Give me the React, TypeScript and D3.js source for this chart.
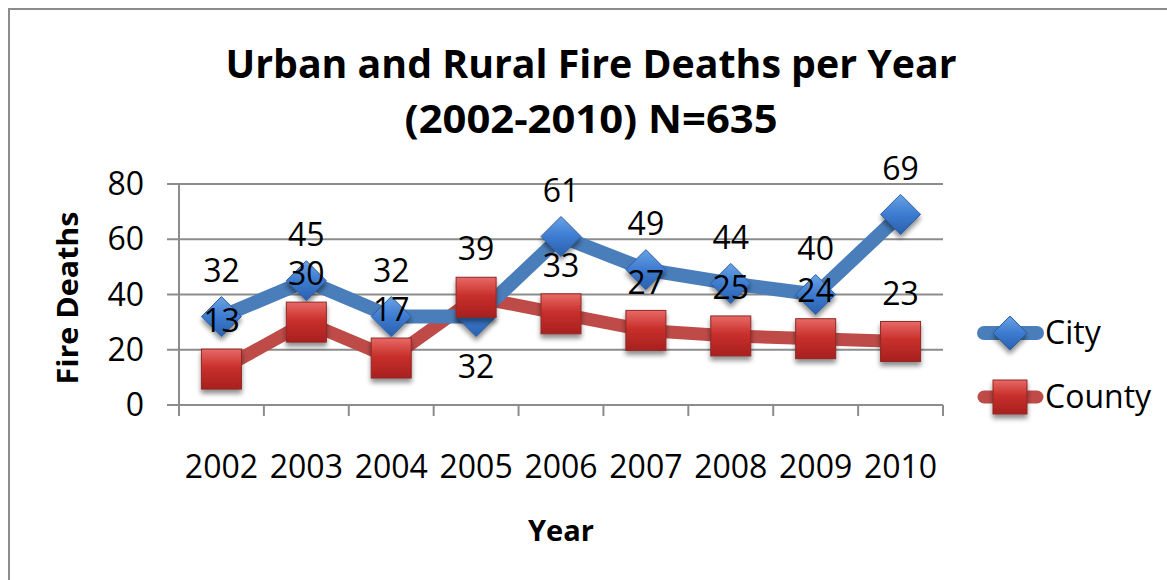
import React from "react";
import * as d3 from "d3";

const years = ["2002", "2003", "2004", "2005", "2006", "2007", "2008", "2009", "2010"];
const cityValues = [32, 45, 32, 32, 61, 49, 44, 40, 69];
const countyValues = [13, 30, 17, 39, 33, 27, 25, 24, 23];
const yTicks = [0, 20, 40, 60, 80];
const cityLabelPlacement = ["above", "above", "above", "below", "above", "above", "above", "above", "above"];
const countyLabelPlacement = ["above", "above", "above", "above", "above", "above", "above", "above", "above"];

const W = 1167;
const H = 580;
const FONT = "'Open Sans', Lato, sans-serif";
const BLUE = "#4a7ebb";
const RED = "#be4b48";

export default function App() {
  const plotLeft = 179;
  const plotRight = 943;
  const plotTop = 184;
  const plotBottom = 405;

  const x = d3.scaleBand<string>().domain(years).range([plotLeft, plotRight]).padding(0);
  const y = d3.scaleLinear().domain([0, 80]).range([plotBottom, plotTop]);
  const cx = (yr: string) => (x(yr) as number) + x.bandwidth() / 2;

  const line = d3
    .line<number>()
    .x((_, i) => cx(years[i]))
    .y((d) => y(d));

  const diamond = (px: number, py: number, r: number) =>
    `M${px},${py - r}L${px + r},${py}L${px},${py + r}L${px - r},${py}Z`;

  return (
    <svg
      width={W}
      height={H}
      style={{ position: "absolute", left: 0, top: 0, background: "#fff" }}
      fontFamily={FONT}
    >
      <defs>
        <linearGradient id="sqGrad" x1="0" y1="0" x2="0" y2="1">
          <stop offset="0" stopColor="#e86a66" />
          <stop offset="0.45" stopColor="#c8302c" />
          <stop offset="1" stopColor="#a8201e" />
        </linearGradient>
        <linearGradient id="dmGrad" x1="0" y1="0" x2="0" y2="1">
          <stop offset="0" stopColor="#6aa2e6" />
          <stop offset="0.5" stopColor="#3d7bd0" />
          <stop offset="1" stopColor="#2a60ad" />
        </linearGradient>
        <filter id="shadow" x="-50%" y="-50%" width="200%" height="200%">
          <feGaussianBlur in="SourceAlpha" stdDeviation="2.5" />
          <feOffset dx="0" dy="4" result="b" />
          <feComponentTransfer>
            <feFuncA type="linear" slope="0.45" />
          </feComponentTransfer>
          <feMerge>
            <feMergeNode />
            <feMergeNode in="SourceGraphic" />
          </feMerge>
        </filter>
      </defs>

      {/* outer border */}
      <rect x={9} y={9} width={W + 20} height={H + 20} fill="none" stroke="#8c8c8c" strokeWidth={2} />

      {/* title */}
      <text x={591} y={78} textAnchor="middle" fontSize={40} fontWeight="bold" fill="#000" textLength={731} lengthAdjust="spacingAndGlyphs">
        Urban and Rural Fire Deaths per Year
      </text>
      <text x={591} y={133} textAnchor="middle" fontSize={40} fontWeight="bold" fill="#000" textLength={373} lengthAdjust="spacingAndGlyphs">
        (2002-2010) N=635
      </text>

      {/* gridlines */}
      {yTicks.map((t) => (
        <line key={t} x1={plotLeft - 12} x2={plotRight} y1={y(t)} y2={y(t)} stroke="#8c8c8c" strokeWidth={2} />
      ))}
      {/* y axis line */}
      <line x1={plotLeft} x2={plotLeft} y1={plotTop} y2={plotBottom + 11} stroke="#8c8c8c" strokeWidth={2} />
      {/* x ticks */}
      {years.map((yr) => (
        <line key={yr} x1={x(yr) as number} x2={x(yr) as number} y1={plotBottom} y2={plotBottom + 11} stroke="#8c8c8c" strokeWidth={2} />
      ))}
      <line x1={plotRight} x2={plotRight} y1={plotBottom} y2={plotBottom + 11} stroke="#8c8c8c" strokeWidth={2} />

      {/* y tick labels */}
      {yTicks.map((t) => (
        <text key={t} x={144} y={y(t)} dy="0.35em" textAnchor="end" fontSize={32} fill="#000">
          {t}
        </text>
      ))}
      {/* x tick labels */}
      {years.map((yr) => (
        <text key={yr} x={cx(yr)} y={478} textAnchor="middle" fontSize={32} fill="#000">
          {yr}
        </text>
      ))}

      {/* axis titles */}
      <text transform="translate(78,298) rotate(-90)" textAnchor="middle" fontSize={29} fontWeight="bold" fill="#000" textLength={173} lengthAdjust="spacingAndGlyphs">
        Fire Deaths
      </text>
      <text x={561} y={541} textAnchor="middle" fontSize={29} fontWeight="bold" fill="#000" textLength={66} lengthAdjust="spacingAndGlyphs">
        Year
      </text>

      {/* lines */}
      <path d={line(countyValues) as string} fill="none" stroke={RED} strokeWidth={13} strokeLinejoin="round" />
      <path d={line(cityValues) as string} fill="none" stroke={BLUE} strokeWidth={14} strokeLinejoin="round" />

      {/* markers */}
      {cityValues.map((v, i) => (
        <path key={"c" + i} d={diamond(cx(years[i]), y(v), 20)} fill="url(#dmGrad)" stroke="#2f5f9e" strokeWidth={1} filter="url(#shadow)" />
      ))}
      {countyValues.map((v, i) => (
        <rect key={"r" + i} x={cx(years[i]) - 20} y={y(v) - 20} width={40} height={40} fill="url(#sqGrad)" stroke="#8e2a27" strokeWidth={1} filter="url(#shadow)" />
      ))}

      {/* data labels */}
      {cityValues.map((v, i) => (
        <text
          key={"cl" + i}
          x={cx(years[i])}
          y={cityLabelPlacement[i] === "above" ? y(v) - 46 : y(v) + 50}
          dy="0.35em"
          textAnchor="middle"
          fontSize={32}
          fill="#000"
        >
          {v}
        </text>
      ))}
      {countyValues.map((v, i) => (
        <text
          key={"rl" + i}
          x={cx(years[i])}
          y={countyLabelPlacement[i] === "above" ? y(v) - 48 : y(v) + 50}
          dy="0.35em"
          textAnchor="middle"
          fontSize={32}
          fill="#000"
        >
          {v}
        </text>
      ))}

      {/* legend */}
      <g>
        <line x1={984} x2={1037} y1={333} y2={333} stroke={BLUE} strokeWidth={14} strokeLinecap="round" />
        <path d={diamond(1010, 333, 17)} fill="url(#dmGrad)" stroke="#2f5f9e" strokeWidth={1} filter="url(#shadow)" />
        <text x={1045} y={333} dy="0.35em" fontSize={32} fill="#000">City</text>
        <line x1={984} x2={1037} y1={397} y2={397} stroke={RED} strokeWidth={13} strokeLinecap="round" />
        <rect x={993} y={380} width={34} height={34} fill="url(#sqGrad)" stroke="#8e2a27" strokeWidth={1} filter="url(#shadow)" />
        <text x={1045} y={397} dy="0.35em" fontSize={32} fill="#000">County</text>
      </g>
    </svg>
  );
}
